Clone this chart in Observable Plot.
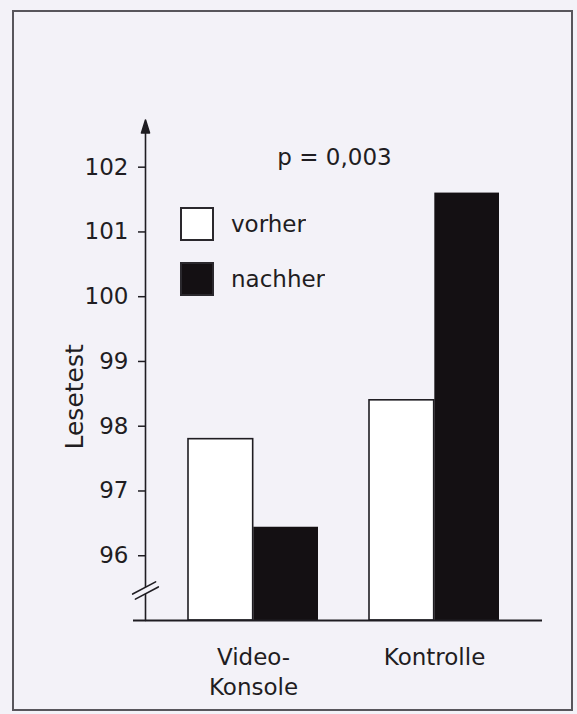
<!DOCTYPE html>
<html>
<head>
<meta charset="utf-8">
<script src="https://cdn.jsdelivr.net/npm/d3@7"></script>
<script src="https://cdn.jsdelivr.net/npm/@observablehq/plot@0.6"></script>
<style>
  html, body { margin: 0; padding: 0; background: #f3f2f8; }
  #wrap { position: relative; width: 577px; height: 714px; overflow: hidden; }
  #chart svg { position: absolute; left: 0; top: 0; }
  #frame { position: absolute; left: 12px; top: 10px; width: 557px; height: 697px; border: 2px solid #58565c; pointer-events: none; }
  #legend { position: absolute; left: 181px; top: 208px; }
  #legend .lg-swatches { font-family: "DejaVu Sans", sans-serif; font-size: 23px; color: #1f1d22; margin: 0; }
  #legend .lg-swatch { margin-bottom: 23px; padding: 0; }
  #legend .lg-swatch > svg { margin-right: 18px; overflow: visible; }
  #legend .lg-swatch rect { stroke: #2a282d; stroke-width: 2px; }
</style>
</head>
<body>
<div id="wrap">
  <div id="frame"></div>
  <div id="chart"></div>
  <div id="legend"></div>
</div>
<script>
// ---- data ----
const categories = ["Video-Konsole", "Kontrolle"];
const categoryLabels = ["Video-\nKonsole", "Kontrolle"];
const phases = ["vorher", "nachher"];
const vorherValues = [97.8, 98.4];
const nachherValues = [96.44, 101.6];
const yTicks = [96, 97, 98, 99, 100, 101, 102];
const yBase = 95;
const yTop = 102.69;
const pText = "p = 0,003";
const yLabel = "Lesetest";

// ---- layout ----
const W = 577, H = 714;
const mL = 145, mR = 35, mT = 122, mB = 94;
const padIn = 0.282, padOut = 0.232;
const ink = "#1f1d22";
const black = "#141013";
const paper = "#f3f2f8";

const rows = categories.flatMap((c, i) => [
  {group: c, phase: phases[0], value: vorherValues[i]},
  {group: c, phase: phases[1], value: nachherValues[i]}
]);

const band = d3.scaleBand().domain(categories).range([mL, W - mR])
  .paddingInner(padIn).paddingOuter(padOut);
const half = band.bandwidth() / 2;

const arrowShape = {
  draw(ctx, l) {
    ctx.moveTo(0, 0); ctx.lineTo(0, -l + 11);
    ctx.moveTo(0, -l); ctx.lineTo(-4, -l + 13); ctx.lineTo(4, -l + 13); ctx.closePath();
  }
};
const breakFill = { draw(ctx, l) { ctx.rect(-2.9, -l, 5.8, l); } };
const breakLines = {
  draw(ctx, l) {
    ctx.moveTo(-2.9, 0); ctx.lineTo(-2.9, -l);
    ctx.moveTo(2.9, 0); ctx.lineTo(2.9, -l);
  }
};

const chart = Plot.plot({
  width: W, height: H,
  marginLeft: mL, marginRight: mR, marginTop: mT, marginBottom: mB,
  style: {background: "transparent", fontFamily: "DejaVu Sans, sans-serif", fontSize: "23px", color: ink, overflow: "visible"},
  x: {type: "band", domain: categories, paddingInner: padIn, paddingOuter: padOut},
  y: {domain: [yBase, yTop]},
  marks: [
    Plot.barY(rows.filter(d => d.phase === phases[0]), {
      x: "group", y1: () => yBase, y2: "value",
      fill: "white", stroke: ink, strokeWidth: 1.6, insetRight: half
    }),
    Plot.barY(rows.filter(d => d.phase === phases[1]), {
      x: "group", y1: () => yBase, y2: "value",
      fill: black, insetLeft: half
    }),
    Plot.ruleY([yBase], {stroke: ink, strokeWidth: 2, insetLeft: -12}),
    Plot.vector([0], {
      frameAnchor: "bottom-left", anchor: "start", rotate: 0,
      length: H - mB - 119.5, shape: arrowShape,
      stroke: ink, fill: ink, strokeWidth: 1.6
    }),
    Plot.vector([0], {
      frameAnchor: "bottom-left", dy: -30, anchor: "middle", rotate: 62,
      length: 26, shape: breakFill, fill: paper, stroke: "none"
    }),
    Plot.vector([0], {
      frameAnchor: "bottom-left", dy: -30, anchor: "middle", rotate: 62,
      length: 26, shape: breakLines, stroke: ink, strokeWidth: 1.6
    }),
    Plot.axisY({ticks: yTicks, tickSize: 7, tickPadding: 10, label: null,
      strokeWidth: 1.5, tickFormat: d => String(d)}),
    Plot.axisX({tickSize: 0, tickPadding: 23, label: null,
      tickFormat: d => categoryLabels[categories.indexOf(d)], lineHeight: 1.3}),
    Plot.text([pText], {text: d => d, frameAnchor: "top", dx: -9.5, dy: 26, lineAnchor: "top", fontSize: 23}),
    Plot.text([yLabel], {text: d => d, frameAnchor: "left", rotate: -90, dx: -71, dy: 78, fontSize: 25})
  ]
});
document.getElementById("chart").append(chart);

const legend = Plot.legend({
  color: {type: "ordinal", domain: phases, range: ["white", black]},
  swatchSize: 32, columns: 1, className: "lg"
});
document.getElementById("legend").append(legend);
</script>
</body>
</html>
